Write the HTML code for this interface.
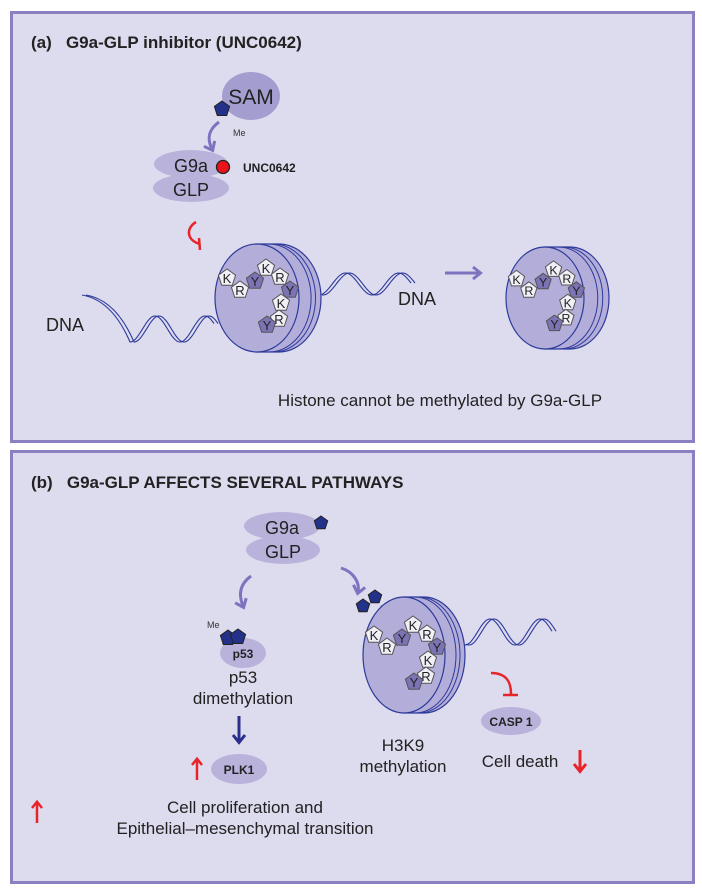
<!DOCTYPE html>
<html><head><meta charset="utf-8"><style>
html,body{margin:0;padding:0;background:#fff;width:702px;height:895px;overflow:hidden}
svg{display:block;font-family:"Liberation Sans",Arial,sans-serif}
</style></head><body>
<svg id="s" width="702" height="895" viewBox="0 0 702 895" xmlns="http://www.w3.org/2000/svg">
<defs>
<marker id="ah" viewBox="0 0 10 10" refX="5" refY="5" markerWidth="5" markerHeight="5" orient="auto"><path d="M1,1 L6,5 L1,9" fill="none" stroke="#7d74c0" stroke-width="2"/></marker>
<marker id="ahb" viewBox="0 0 10 10" refX="5" refY="5" markerWidth="5" markerHeight="5" orient="auto"><path d="M1,1 L6,5 L1,9" fill="none" stroke="#2a2f8c" stroke-width="2"/></marker>
<marker id="ahr" viewBox="0 0 10 10" refX="5" refY="5" markerWidth="5" markerHeight="5" orient="auto"><path d="M1,1 L6,5 L1,9" fill="none" stroke="#e8242a" stroke-width="2"/></marker>
</defs>
<rect x="11.5" y="12.5" width="682" height="429" fill="#dddbee" stroke="#8a80c2" stroke-width="3"/>
<rect x="11.5" y="451.5" width="682" height="431" fill="#dddbee" stroke="#8a80c2" stroke-width="3"/>

<text x="31" y="48" font-size="17" font-weight="bold" fill="#222">(a)&#160;&#160; G9a-GLP inhibitor (UNC0642)</text>
<ellipse cx="251" cy="96" rx="29" ry="24" fill="#a49ed0"/>
<text x="251" y="104" font-size="21" text-anchor="middle" fill="#222">SAM</text>
<text x="233" y="136" font-size="9" fill="#333">Me</text>
<path d="M219,122 C208,130 207,139 212,149" fill="none" stroke="#7d74c0" stroke-width="3" marker-end="url(#ah)"/>
<ellipse cx="191" cy="164" rx="37" ry="14" fill="#b9b3dc"/>
<ellipse cx="191" cy="188" rx="38" ry="14" fill="#b9b3dc"/>
<text x="191" y="172" font-size="18" text-anchor="middle" fill="#222">G9a</text>
<text x="191" y="196" font-size="18" text-anchor="middle" fill="#222">GLP</text>
<circle cx="223" cy="167" r="6.5" fill="#e8141a" stroke="#222" stroke-width="1.3"/>
<text x="243" y="172" font-size="12" font-weight="bold" fill="#222">UNC0642</text>
<path d="M196,222 C186,228 186,240 200,244" fill="none" stroke="#e8242a" stroke-width="2.5"/>
<line x1="199" y1="238" x2="200" y2="250" stroke="#e8242a" stroke-width="2.5"/>
<text x="46" y="331" font-size="18" fill="#222">DNA</text>
<text x="398" y="305" font-size="18" fill="#222">DNA</text>
<line x1="445" y1="273" x2="479" y2="273" stroke="#7d74c0" stroke-width="3" marker-end="url(#ah)"/>
<text x="440" y="406" font-size="17" text-anchor="middle" fill="#222">Histone cannot be methylated by G9a-GLP</text>

<text x="31" y="488" font-size="17" font-weight="bold" fill="#222">(b)&#160;&#160; G9a-GLP AFFECTS SEVERAL PATHWAYS</text>
<ellipse cx="282" cy="526" rx="38" ry="14" fill="#b9b3dc"/>
<ellipse cx="283" cy="550" rx="37" ry="14" fill="#b9b3dc"/>
<text x="282" y="534" font-size="18" text-anchor="middle" fill="#222">G9a</text>
<text x="283" y="558" font-size="18" text-anchor="middle" fill="#222">GLP</text>
<path d="M251,576 C240,584 238,594 243,606" fill="none" stroke="#7d74c0" stroke-width="3" marker-end="url(#ah)"/>
<path d="M341,568 C354,572 360,583 358,592" fill="none" stroke="#7d74c0" stroke-width="3" marker-end="url(#ah)"/>
<text x="207" y="628" font-size="9" fill="#333">Me</text>
<ellipse cx="243" cy="653" rx="23" ry="15" fill="#b9b3dc"/>
<text x="243" y="658" font-size="12" font-weight="bold" text-anchor="middle" fill="#222">p53</text>
<text x="243" y="683" font-size="17" text-anchor="middle" fill="#222">p53</text>
<text x="243" y="704" font-size="17" text-anchor="middle" fill="#222">dimethylation</text>
<line x1="239" y1="716" x2="239" y2="741" stroke="#2a2f8c" stroke-width="3" marker-end="url(#ahb)"/>
<ellipse cx="239" cy="769" rx="28" ry="15" fill="#b9b3dc"/>
<text x="239" y="774" font-size="12" font-weight="bold" text-anchor="middle" fill="#222">PLK1</text>
<line x1="197" y1="780" x2="197" y2="760" stroke="#e8242a" stroke-width="2.5" marker-end="url(#ahr)"/>
<line x1="37" y1="823" x2="37" y2="803" stroke="#e8242a" stroke-width="2.5" marker-end="url(#ahr)"/>
<text x="245" y="813" font-size="17" text-anchor="middle" fill="#222">Cell proliferation and</text>
<text x="245" y="834" font-size="17" text-anchor="middle" fill="#222">Epithelial–mesenchymal transition</text>
<text x="380" y="612" font-size="9" fill="#333">Me</text>
<text x="403" y="751" font-size="17" text-anchor="middle" fill="#222">H3K9</text>
<text x="403" y="772" font-size="17" text-anchor="middle" fill="#222">methylation</text>
<path d="M491,673 C505,673 511,680 511,694" fill="none" stroke="#e8242a" stroke-width="2.5"/>
<line x1="503" y1="695" x2="518" y2="695" stroke="#e8242a" stroke-width="2.5"/>
<ellipse cx="511" cy="721" rx="30" ry="14" fill="#b9b3dc"/>
<text x="511" y="726" font-size="12" font-weight="bold" text-anchor="middle" fill="#222">CASP 1</text>
<text x="520" y="767" font-size="17" text-anchor="middle" fill="#222">Cell death</text>
<line x1="580" y1="750" x2="580" y2="770" stroke="#e8242a" stroke-width="3" marker-end="url(#ahr)"/>
</svg>
<script>
const NS="http://www.w3.org/2000/svg";
const svg=document.getElementById('s');
function el(t,a,p){const e=document.createElementNS(NS,t);for(const k in a)e.setAttribute(k,a[k]);(p||svg).appendChild(e);return e;}
function pent(cx,cy,r,fill,stroke,name){const pts=[];for(let i=0;i<5;i++){const a=-Math.PI/2+i*2*Math.PI/5;pts.push((cx+r*Math.cos(a)).toFixed(1)+','+(cy+r*Math.sin(a)).toFixed(1));}
const p=el('polygon',{points:pts.join(' '),fill:fill,stroke:stroke,'stroke-width':1});


return p;}
function wave(x0,x1,yc,amp,per,xt,pre){let d=pre||'';for(let x=x0;x<=x1;x+=1.5){const yy=yc+amp*Math.cos((x-xt)/per*2*Math.PI);d+=(d?'L':'M')+x.toFixed(1)+','+yy.toFixed(1);}return d;}
function dna(x0,x1,yc,amp,per,xt,name,tail){for(const dx of [0,4]){const pre=tail?`M${tail[0]+dx},${tail[1]} Q${tail[2]+dx},${tail[3]} ${x0+dx},${yc+amp}`:'';const p=el('path',{d:wave(x0+dx,x1+dx,yc,amp,per,xt+dx,pre),fill:'none',stroke:'#2e3a9a','stroke-width':1.1});}}
const marks=[['K',-30,-20],['R',-17,-8],['Y',-2,-17],['K',9,-30],['R',23,-21],['Y',33,-8],['K',24,5],['R',22,21],['Y',10,27]];
function nuc(cx,cy,rx,ry,off,s,name){
 const g=el('g',{});
 el('path',{d:`M${cx},${cy-ry} L${cx+off},${cy-ry} A${rx},${ry} 0 0 1 ${cx+off},${cy+ry} L${cx},${cy+ry} Z`,fill:'#b3add9',stroke:'#2e3a9a','stroke-width':1.2},g);
 for(const k of [0.55,0.75]) el('path',{d:`M${cx+off*k},${cy-ry} A${rx},${ry} 0 0 1 ${cx+off*k},${cy+ry}`,fill:'none',stroke:'#2e3a9a','stroke-width':1},g);
 el('ellipse',{cx:cx,cy:cy,rx:rx,ry:ry,fill:'#b3add9',stroke:'#2e3a9a','stroke-width':1.2},g);
 for(const m of marks){const x=cx+m[1]*s,y=cy+m[2]*s;const dark=m[0]==='Y';
  pent(x,y,9*s,dark?'#7b73b3':'#f1f0f7','#555','histone-residue-'+m[0].toLowerCase());
  const t=el('text',{x:x,y:y+5*s,'font-size':13*s,'text-anchor':'middle',fill:'#222'});t.textContent=m[0];}
}
dna(130,214,329,13,50,130,'dna-strand-left',[82,295,112,300]);
dna(318,412,284,11,53,372,'dna-strand-right');
nuc(257,298,42,54,22,1,'nucleosome-a');
nuc(545,298,39,51,25,0.95,'nucleosome-a-unmethylated');
dna(462,553,632,13,50,515,'dna-strand-b');
nuc(404,655,41,58,20,1,'nucleosome-b');
pent(222,109,8,'#23318a','#222','methyl-group-sam');
pent(321,523,7,'#23318a','#222','methyl-group-g9a');
pent(228,638,8,'#23318a','#222','methyl-group-p53-1');
pent(238,637,8,'#23318a','#222','methyl-group-p53-2');
pent(363,606,7,'#23318a','#222','methyl-group-h3k9-1');
pent(375,597,7,'#23318a','#222','methyl-group-h3k9-2');
</script>
</body></html>
